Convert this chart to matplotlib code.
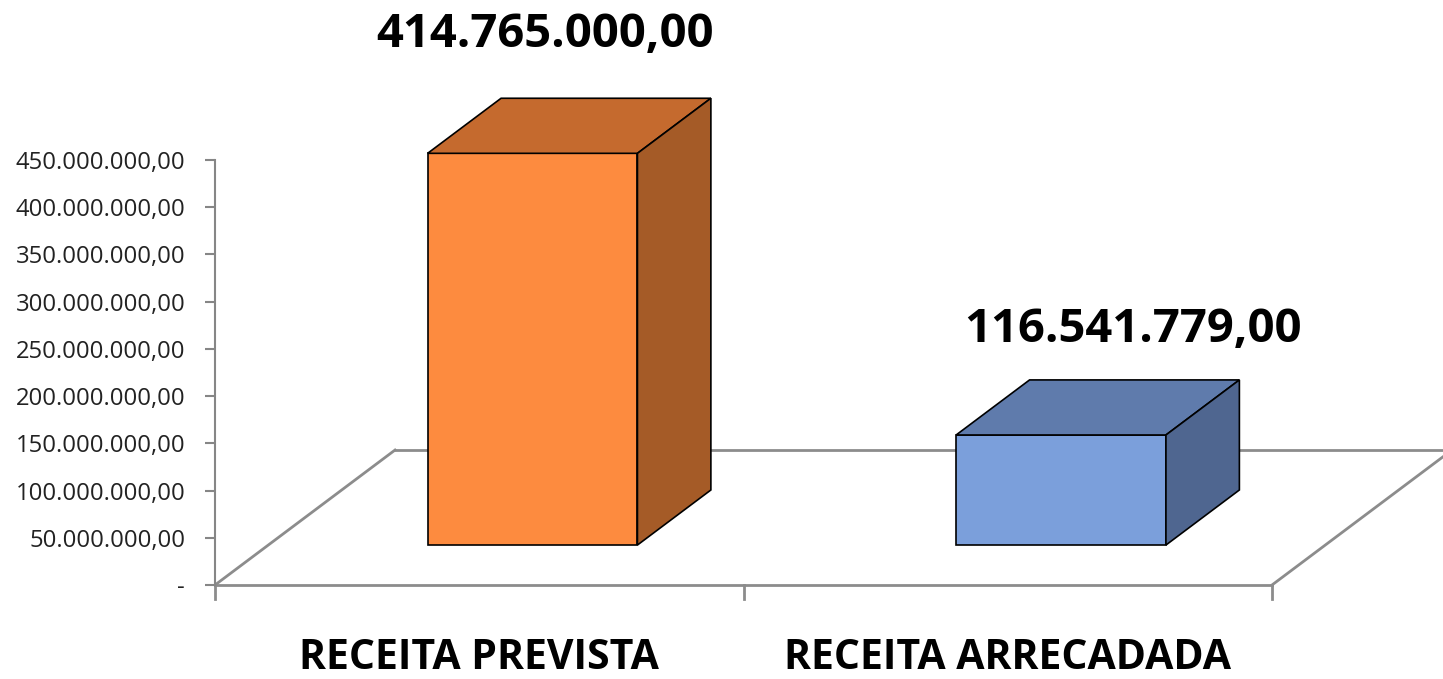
import matplotlib
matplotlib.use("Agg")
import matplotlib.pyplot as plt
from matplotlib.patches import Polygon
from matplotlib.ticker import FuncFormatter, MultipleLocator

categories = ["RECEITA PREVISTA", "RECEITA ARRECADADA"]
values = [414765000.00, 116541779.00]
value_labels = ["414.765.000,00", "116.541.779,00"]
front_colors = ["#FD8B3F", "#7B9FDB"]
top_colors = ["#C56A2E", "#5F7BAC"]
side_colors = ["#A55B27", "#4F6690"]

YMAX = 450_000_000
YSTEP = 50_000_000

fig = plt.figure(figsize=(14.43, 6.79), dpi=100)
ax = fig.add_axes([215/1443, 94/679, 1057/1443, 425/679])
ax.set_xlim(0, len(categories))
ax.set_ylim(0, YMAX)

# depth of the 3D floor in data units
DX = 0.3406
DY = 142.9e6
f_front, f_back = 0.296, 0.704
bar_w = 0.397

def fmt(v, pos):
    if v == 0:
        return "-"
    s = f"{v:,.2f}"
    return s.replace(",", "X").replace(".", ",").replace("X", ".")

ax.yaxis.set_major_locator(MultipleLocator(YSTEP))
ax.yaxis.set_major_formatter(FuncFormatter(fmt))
for s in ["top", "right", "bottom"]:
    ax.spines[s].set_visible(False)
ax.spines["left"].set_color("#868686")
ax.spines["left"].set_linewidth(1.5)
ax.tick_params(axis="y", length=7, width=1.5, color="#868686", pad=14.5,
               labelsize=17.2, labelcolor="#222222")
ax.set_xticks([])
for lab in ax.get_yticklabels():
    lab.set_fontfamily("Open Sans")

gray = "#8C8C8C"
n = len(categories)
# floor outline
ax.plot([0, n], [0, 0], color=gray, lw=2, clip_on=False, zorder=1)
ax.plot([DX, n + DX], [DY, DY], color=gray, lw=2, clip_on=False, zorder=1)
ax.plot([0, DX], [0, DY], color=gray, lw=2, clip_on=False, zorder=1)
ax.plot([n, n + DX], [0, DY], color=gray, lw=2, clip_on=False, zorder=1)
# category ticks
for i in range(n + 1):
    ax.plot([i, i], [0, -15e6], color=gray, lw=2, clip_on=False, zorder=1)

label_dx = [0.124, 0.237]
label_dy = [167.6e6, 153.5e6]

for i, (v, fc, tc, sc) in enumerate(zip(values, front_colors, top_colors, side_colors)):
    c = i + 0.5
    x0 = c - bar_w / 2 + f_front * DX
    x1 = c + bar_w / 2 + f_front * DX
    y0 = f_front * DY
    y1 = y0 + v
    ddx = (f_back - f_front) * DX
    ddy = (f_back - f_front) * DY
    kw = dict(edgecolor="black", lw=1.2, clip_on=False, zorder=3, joinstyle="miter")
    ax.add_patch(Polygon([(x0, y0), (x1, y0), (x1, y1), (x0, y1)], facecolor=fc, **kw))
    ax.add_patch(Polygon([(x0, y1), (x1, y1), (x1 + ddx, y1 + ddy), (x0 + ddx, y1 + ddy)],
                         facecolor=tc, **kw))
    ax.add_patch(Polygon([(x1, y0), (x1 + ddx, y0 + ddy), (x1 + ddx, y1 + ddy), (x1, y1)],
                         facecolor=sc, **kw))
    ax.text(c + label_dx[i], v + label_dy[i], value_labels[i], ha="center", va="center",
            fontsize=34, fontweight="bold", family="Open Sans", color="black",
            clip_on=False)
    ax.text(c, -88.5e6, categories[i], ha="center", va="baseline",
            fontsize=29.5, fontweight="bold", family="Open Sans", color="black")

fig.savefig("out.png", dpi=100)
